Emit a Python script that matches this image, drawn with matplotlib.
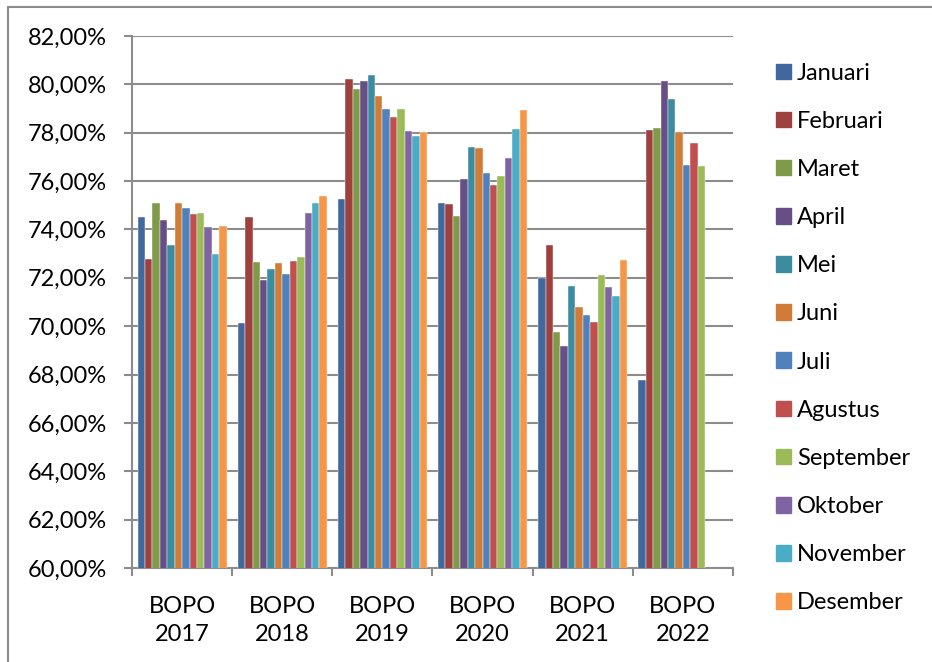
"""Monthly BOPO ratio per year, grouped bar chart (Excel-style)."""
import matplotlib
matplotlib.use("Agg")
import matplotlib.pyplot as plt
import matplotlib.patches as mpatches
from matplotlib.ticker import FuncFormatter, FixedLocator
import numpy as np

plt.rcParams["font.family"] = ["Lato", "DejaVu Sans"]

YEARS = ["BOPO\n2017", "BOPO\n2018", "BOPO\n2019", "BOPO\n2020", "BOPO\n2021", "BOPO\n2022"]
MONTHS = ["Januari", "Februari", "Maret", "April", "Mei", "Juni", "Juli",
          "Agustus", "September", "Oktober", "November", "Desember"]

# one list per year, Januari..Desember (%), 2022 only up to September
bopo_2017 = [74.50, 72.79, 75.08, 74.40, 73.35, 75.08, 74.88, 74.64, 74.68, 74.10, 72.97, 74.14]
bopo_2018 = [70.15, 74.50, 72.64, 71.92, 72.36, 72.62, 72.14, 72.69, 72.88, 74.70, 75.10, 75.38]
bopo_2019 = [75.28, 80.21, 79.79, 80.14, 80.39, 79.53, 78.98, 78.65, 78.97, 78.08, 77.85, 78.02]
bopo_2020 = [75.09, 75.05, 74.55, 76.10, 77.41, 77.38, 76.35, 75.82, 76.22, 76.95, 78.17, 78.95]
bopo_2021 = [72.00, 73.35, 69.74, 69.19, 71.67, 70.79, 70.48, 70.17, 72.10, 71.64, 71.24, 72.72]
bopo_2022 = [67.77, 78.12, 78.18, 80.15, 79.39, 78.02, 76.66, 77.56, 76.61, np.nan, np.nan, np.nan]

COLORS = ["#41689c", "#9e403d", "#7f9a48", "#664e87", "#3b8ba1", "#d17b36",
          "#4f81bd", "#c0504d", "#9bbb59", "#8064a2", "#4bacc6", "#f79646"]
GRID = "#8c8c8c"
FS = 17

data = np.array([bopo_2017, bopo_2018, bopo_2019, bopo_2020, bopo_2021, bopo_2022])
n_groups, n_series = data.shape

fig = plt.figure(figsize=(9.32, 6.62), dpi=100)
ax = fig.add_axes([132 / 932, 94 / 662, 601 / 932, 532 / 662])

group_w = 0.89
bar_w = group_w / n_series
x = np.arange(n_groups)
handles = []
for i, month in enumerate(MONTHS):
    xs = x - group_w / 2 + bar_w * (i + 0.5)
    ax.bar(xs, data[:, i], width=bar_w, color=COLORS[i],
           edgecolor="white", linewidth=0.3, zorder=3)
    handles.append(mpatches.Patch(color=COLORS[i], label=month))

ax.set_xlim(-0.5, n_groups - 0.5)
ax.set_ylim(60, 82)
ax.set_yticks(np.arange(60, 82.1, 2))
ax.yaxis.set_major_formatter(
    FuncFormatter(lambda v, _: f"{v:.2f}".replace(".", ",") + "%"))
ax.grid(axis="y", color=GRID, linewidth=1.5, zorder=0)

ax.set_xticks(x)
ax.set_xticklabels(YEARS, linespacing=1.4)
ax.xaxis.set_minor_locator(FixedLocator(np.arange(-0.5, n_groups, 1.0)))
ax.tick_params(axis="x", which="major", length=0, pad=20, labelsize=FS)
ax.tick_params(axis="x", which="minor", length=6, width=1.5, color=GRID)
ax.tick_params(axis="y", length=6, width=1.5, color=GRID, pad=12, labelsize=FS)

for side in ("top", "right"):
    ax.spines[side].set_visible(False)
for side in ("left", "bottom"):
    ax.spines[side].set_color(GRID)
    ax.spines[side].set_linewidth(1.5)

fig.legend(handles=handles, loc="center left",
           bbox_to_anchor=(776 / 932, 1 - 338 / 662),
           frameon=False, fontsize=FS, labelspacing=1.15,
           handlelength=0.64, handleheight=0.64, handletextpad=0.25,
           borderaxespad=0, borderpad=0)

# chart-area frame, open to the right and bottom edges
fig.add_artist(mpatches.Rectangle((8 / 932, -0.1), 2.0, 0.1 + 655 / 662,
                                  transform=fig.transFigure, fill=False,
                                  edgecolor=GRID, linewidth=1.5))

fig.savefig("out.png", dpi=100)
